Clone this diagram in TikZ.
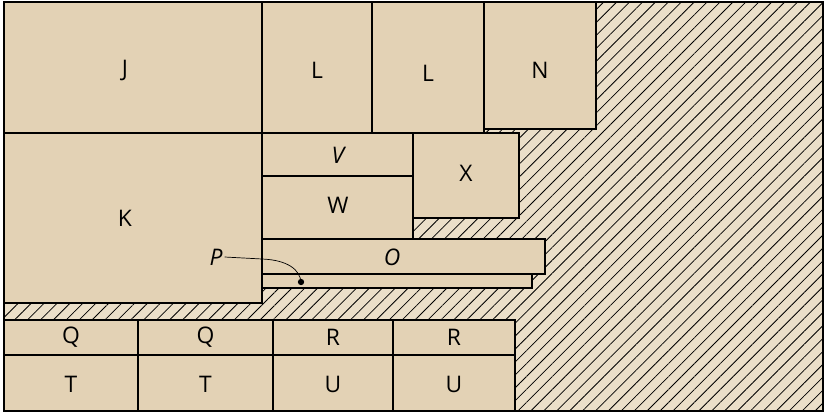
\documentclass[tikz,border=0pt]{standalone}
\usepackage{fontspec}
\setmainfont{Open Sans}
\definecolor{boxtan}{RGB}{227, 210, 181}
\definecolor{hatchtan}{RGB}{235, 223, 201}
\usetikzlibrary{patterns.meta}

\begin{document}
\begin{tikzpicture}[
  x=0.02cm, y=-0.02cm,
  blk/.style={draw, fill=boxtan, line width=0.8pt},
  lbl/.style={font=\fontsize{13}{15}\selectfont, inner sep=1pt},
  slbl/.style={lbl, font=\fontsize{13}{15}\selectfont\itshape}
]
  \useasboundingbox (0,0) rectangle (824,412);
  % hatched free area
  \fill[hatchtan] (4,2) rectangle (823,411);
  \fill[pattern={Lines[angle=45, distance=5.2pt, line width=0.45pt]}] (4,2) rectangle (823,411);
  \draw[line width=0.8pt] (4,2) rectangle (823,411);
  % top row
  \draw[blk] (4,2) rectangle (262,133);
  \draw[blk] (262,2) rectangle (372,133);
  \draw[blk] (372,2) rectangle (484,133);
  \draw[blk] (484,2) rectangle (596,129);
  \node[lbl] (j) at (125,70) {J};
  \node[lbl] (l1) at (317,70) {L};
  \node[lbl] (l2) at (428,73) {L};
  \node[lbl] (n) at (540,70) {N};
  % middle
  \draw[blk] (4,133) rectangle (262,303);
  \draw[blk] (262,133) rectangle (413,176);
  \draw[blk] (262,176) rectangle (413,239);
  \draw[blk] (413,133) rectangle (519,218);
  \draw[blk] (262,239) rectangle (545,274);
  \draw[blk] (262,274) rectangle (532,288);
  \node[lbl] (k) at (125,218) {K};
  \node[slbl] (v) at (338,155) {V};
  \node[lbl] (w) at (338,205) {W};
  \node[lbl] (x) at (466,173) {X};
  \node[slbl] (o) at (392,257) {O};
  % bottom rows
  \foreach \xa/\xb/\top/\bot in {4/138/Q/T, 138/273/Q/T, 273/393/R/U, 393/515/R/U}{
    \draw[blk] (\xa,320) rectangle (\xb,355);
    \draw[blk] (\xa,355) rectangle (\xb,411);
    \node[lbl] (top\xa) at ({(\xa+\xb)/2},337) {\top};
    \node[lbl] (bot\xa) at ({(\xa+\xb)/2},384) {\bot};
  }
  % pointer
  \node[slbl] (p) at (216,257) {P};
  \coordinate (pdot) at (301,282);
  \draw[line width=0.4pt] (p.east) -- (262,259) .. controls (288,260) and (300,270) .. (pdot);
  \fill (pdot) circle (1.8pt);
\end{tikzpicture}
\end{document}
